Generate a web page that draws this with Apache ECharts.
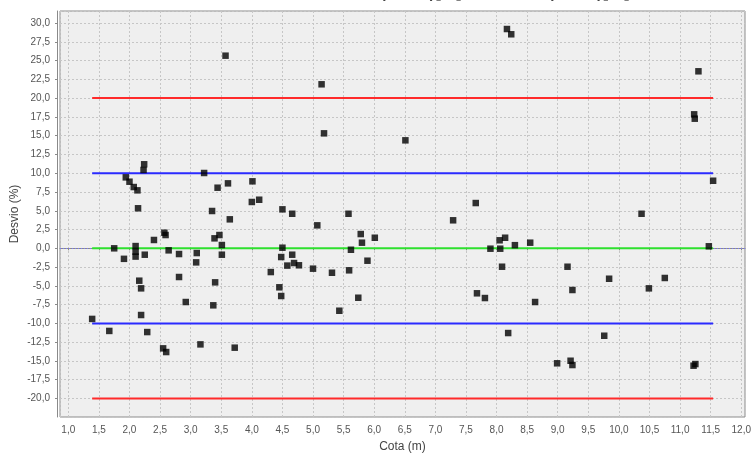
<!DOCTYPE html>
<html><head><meta charset="utf-8">
<script src="https://cdn.jsdelivr.net/npm/echarts@6/dist/echarts.min.js"></script>
<style>html,body{margin:0;padding:0;background:#fff}#c{width:754px;height:454px}</style>
</head><body><div id="c"></div>
<script>
// Scatter data: Cota (m) vs Desvio (%)
const cota = [1.39,1.67,1.75,1.91,1.94,2.00,2.07,2.13,2.10,2.10,2.10,2.14,2.16,2.19,2.19,2.23,2.24,2.25,2.29,2.40,
  2.55,2.57,2.59,2.60,2.64,2.81,2.81,2.92,3.10,3.09,3.16,3.22,3.35,3.37,3.39,3.40,3.44,3.47,3.51,3.51,
  3.57,3.61,3.64,3.72,4.00,4.01,4.12,4.31,4.45,4.48,4.48,4.50,4.50,4.58,4.66,4.66,4.69,4.77,5.00,5.07,
  5.14,5.18,5.31,5.43,5.58,5.59,5.62,5.74,5.78,5.80,5.89,6.01,6.51,7.29,7.66,7.68,7.81,7.90,8.05,8.06,
  8.09,8.14,8.17,8.19,8.24,8.30,8.55,8.63,8.99,9.16,9.21,9.24,9.24,9.76,9.84,10.37,10.49,10.75,11.22,11.25,
  11.23,11.24,11.30,11.47,11.54];
const desvio = [-9.4,-11.0,0.0,-1.4,9.45,8.87,8.16,7.72,0.3,-0.45,-1.1,5.33,-4.31,-5.33,-8.88,10.43,11.19,-0.85,-11.15,1.11,
  -13.32,2.08,1.77,-13.81,-0.27,-0.76,-3.82,-7.15,-0.63,-1.87,-12.79,10.03,4.97,-7.59,1.33,-4.53,8.07,1.77,0.44,-0.85,
  25.65,8.65,3.86,-13.23,6.17,8.92,6.47,-3.16,-5.19,-1.16,-6.35,5.19,0.08,-2.3,4.6,-0.85,-1.96,-2.26,-2.71,3.06,
  21.84,15.31,-3.25,-8.31,4.6,-2.93,-0.19,-6.58,1.9,0.75,-1.65,1.41,14.38,3.73,6.03,-5.99,-6.62,-0.05,1.07,-0.05,
  -2.45,1.41,29.2,-11.28,28.5,0.42,0.75,-7.15,-15.31,-2.45,-14.97,-5.55,-15.54,-11.64,-4.05,4.6,-5.33,-3.95,-15.63,-15.41,
  17.84,17.26,23.57,0.27,9.0];
// Limit lines
const limitX = [1.39, 11.54];
const redLimits = [20, -20];
const blueLimits = [10, -10];
const greenLimits = [0];
const xStep = 0.5, yStep = 2.5;

function fmt(v, step) {
  const k = v / step;
  if (Math.abs(k - Math.round(k)) > 1e-6) return '';
  return v.toFixed(1).replace('.', ',');
}
const FONT = 'Liberation Sans';
function limitSeries(vals, color) {
  return vals.map(v => ({
    type: 'line', data: [[limitX[0], v], [limitX[1], v]], symbol: 'none', silent: true,
    lineStyle: { color: color, width: 2 }, z: 3
  }));
}
const series = [];
series.push({
  type: 'line', data: [], symbol: 'none', silent: true, z: 1,
  markLine: { silent: true, symbol: 'none', z: 1, label: { show: false },
    lineStyle: { color: '#7a7aff', type: [1, 2], width: 1 }, data: [{ yAxis: 0 }] }
});
series.push(...limitSeries(redLimits, '#ff2a2a'));
series.push(...limitSeries(blueLimits, '#2a2aff'));
series.push(...limitSeries(greenLimits, '#2ee02e'));
series.push({
  type: 'scatter', symbol: 'rect', symbolSize: 6.5, z: 5,
  itemStyle: { color: '#000' },
  data: cota.map((x, i) => [x, desvio[i]])
});

const chart = echarts.init(document.getElementById('c'), null, { renderer: 'canvas' });
chart.setOption({
  animation: false,
  backgroundColor: '#ffffff',
  title: [
    { text: 'Desvio (DESV)[%]', right: 287, top: -17, textStyle: { fontFamily: 'DejaVu Sans', fontWeight: 'bold', fontSize: 14, color: '#000' } },
    { text: 'x Cota (COTA)[m]', right: 119, top: -17, textStyle: { fontFamily: 'DejaVu Sans', fontWeight: 'bold', fontSize: 14, color: '#000' } }
  ],
  grid: { left: 60, right: 9, top: 11, bottom: 37, outerBoundsMode: 'none', containLabel: false,
    show: true, backgroundColor: '#efefef', borderColor: '#8a8a8a', borderWidth: 1 },
  xAxis: {
    type: 'value', min: 0.8643, max: 12.061, minInterval: xStep, maxInterval: xStep, splitNumber: 22,
    offset: 3,
    name: 'Cota (m)', nameLocation: 'middle', nameGap: 21, nameMoveOverlap: false,
    nameTextStyle: { fontFamily: FONT, fontSize: 12, color: '#444' },
    axisLine: { show: true, lineStyle: { color: '#8a8a8a' } },
    axisTick: { show: true, length: 2, lineStyle: { color: '#8a8a8a' } },
    axisLabel: { margin: 5, fontFamily: FONT, fontSize: 10, color: '#555', showMinLabel: false, showMaxLabel: false,
      formatter: v => fmt(v, xStep) },
    splitLine: { show: true, lineStyle: { color: '#c6c6c6', type: [2, 2], width: 1 } }
  },
  yAxis: {
    type: 'value', min: -22.46, max: 31.6, minInterval: yStep, maxInterval: yStep, splitNumber: 22,
    offset: 3,
    name: 'Desvio (%)', nameLocation: 'middle', nameGap: 36, nameMoveOverlap: false,
    nameTextStyle: { fontFamily: FONT, fontSize: 12, color: '#444' },
    axisLine: { show: true, lineStyle: { color: '#8a8a8a' } },
    axisTick: { show: true, length: 2, lineStyle: { color: '#8a8a8a' } },
    axisLabel: { margin: 7, fontFamily: FONT, fontSize: 10, color: '#555', showMinLabel: false, showMaxLabel: false,
      formatter: v => fmt(v, yStep) },
    splitLine: { show: true, lineStyle: { color: '#c6c6c6', type: [2, 2], width: 1 } }
  },
  series: series
});
</script></body></html>
